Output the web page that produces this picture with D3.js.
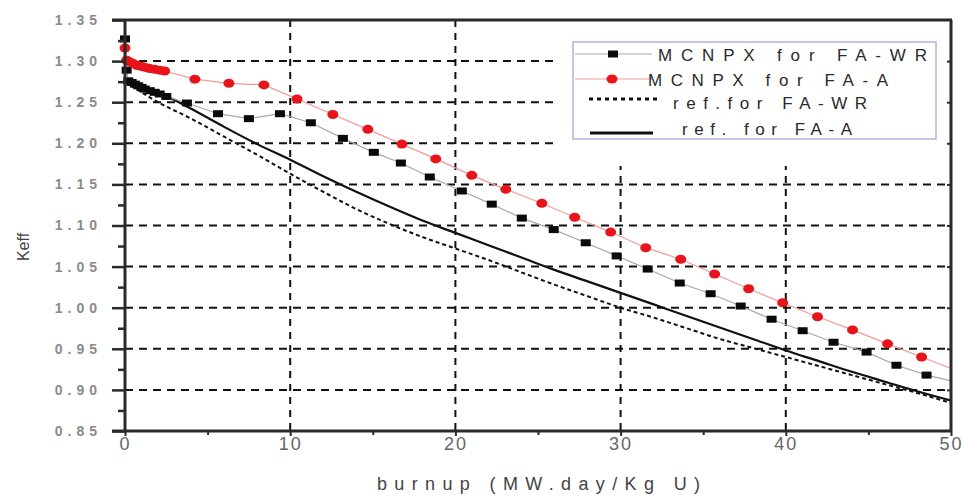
<!DOCTYPE html>
<html>
<head>
<meta charset="utf-8">
<script src="https://cdn.jsdelivr.net/npm/d3@7"></script>
<style>
  html, body { margin: 0; padding: 0; background: #fff; }
  svg { display: block; font-family: "Liberation Sans", Arial, sans-serif; }
</style>
</head>
<body>
<svg id="chart" width="969" height="499"></svg>
<script>
// Burnup (MW.day/kg U) and keff values for each series
const mcnpxWrBurnup = [0, 0.1, 0.2, 0.4, 0.6, 0.8, 1.0, 1.2, 1.5, 1.8, 2.1, 2.5,
  3.75, 5.63, 7.50, 9.38, 11.25, 13.19, 15.06, 16.7, 18.45, 20.39, 22.2, 24.02, 25.95,
  27.89, 29.76, 31.64, 33.58, 35.45, 37.27, 39.14, 41.02, 42.89, 44.89, 46.7, 48.52];
const mcnpxWrKeff = [1.327, 1.289, 1.276, 1.274, 1.272, 1.270, 1.268, 1.266, 1.264, 1.262, 1.260, 1.257,
  1.249, 1.236, 1.230, 1.236, 1.225, 1.206, 1.189, 1.176, 1.159, 1.142, 1.126, 1.109, 1.095,
  1.079, 1.063, 1.047, 1.030, 1.017, 1.002, 0.986, 0.972, 0.958, 0.946, 0.930, 0.918];
const mcnpxWrTail = [50, 0.911];

const mcnpxABurnup = [0, 0.1, 0.3, 0.5, 0.7, 0.9, 1.1, 1.3, 1.5, 1.8, 2.1, 2.4,
  4.23, 6.29, 8.41, 10.41, 12.58, 14.70, 16.76, 18.81, 20.99, 23.05, 25.23,
  27.22, 29.40, 31.52, 33.64, 35.69, 37.75, 39.81, 41.92, 44.04, 46.16, 48.22];
const mcnpxAKeff = [1.316, 1.301, 1.299, 1.297, 1.295, 1.294, 1.293, 1.292, 1.291, 1.290, 1.289, 1.288,
  1.278, 1.273, 1.271, 1.254, 1.235, 1.217, 1.199, 1.181, 1.161, 1.144, 1.127,
  1.110, 1.092, 1.073, 1.059, 1.041, 1.023, 1.006, 0.989, 0.973, 0.956, 0.940];
const mcnpxATail = [50, 0.926];

const refBurnup = [0, 1, 2, 4, 6, 8, 10, 12, 14, 16, 18, 20, 22, 24, 26,
  28, 30, 32, 34, 36, 38, 40, 42, 44, 46, 48, 50];
const refWrKeff = [1.275, 1.262, 1.250, 1.230, 1.208, 1.186, 1.163, 1.141, 1.120, 1.102, 1.086, 1.072, 1.058, 1.043, 1.028,
  1.014, 1.000, 0.988, 0.975, 0.962, 0.951, 0.940, 0.929, 0.918, 0.907, 0.896, 0.884];
const refAKeff = [1.278, 1.270, 1.262, 1.242, 1.220, 1.199, 1.180, 1.160, 1.141, 1.123, 1.106, 1.091, 1.076, 1.061, 1.046,
  1.032, 1.018, 1.004, 0.990, 0.976, 0.962, 0.948, 0.935, 0.922, 0.910, 0.898, 0.887];

const xTicks = [0, 10, 20, 30, 40, 50];
const xMinorTicks = [5, 15, 25, 35, 45];
const yTicks = [0.85, 0.90, 0.95, 1.00, 1.05, 1.10, 1.15, 1.20, 1.25, 1.30, 1.35];
const yMinorTicks = [0.875, 0.925, 0.975, 1.025, 1.075, 1.125, 1.175, 1.225, 1.275, 1.325];
const legendLabels = ["MCNPX for FA-WR", "MCNPX for FA-A", "ref.for FA-WR", "ref. for FA-A"];

const svg = d3.select("#chart");
const plotL = 125, plotR = 951, plotT = 20, plotB = 431;
const x = d3.scaleLinear().domain([0, 50]).range([plotL, plotR]);
const y = d3.scaleLinear().domain([0.85, 1.35]).range([plotB, plotT]);

const zip = (xs, ys) => xs.map((v, i) => [v, ys[i]]);
const wrPts = zip(mcnpxWrBurnup, mcnpxWrKeff);
const aPts = zip(mcnpxABurnup, mcnpxAKeff);
const refWr = zip(refBurnup, refWrKeff);
const refA = zip(refBurnup, refAKeff);

// dashed grid
const grid = svg.append("g");
grid.selectAll("line.h").data(yTicks.filter(v => v > 0.86 && v < 1.34)).join("line")
  .attr("class", "h")
  .attr("x1", plotL).attr("x2", plotR)
  .attr("y1", d => y(d)).attr("y2", d => y(d))
  .attr("stroke", "#111").attr("stroke-width", 2).attr("stroke-dasharray", "8,6");
grid.selectAll("line.v").data(xTicks.filter(v => v > 0 && v < 50)).join("line")
  .attr("class", "v")
  .attr("x1", d => x(d)).attr("x2", d => x(d))
  .attr("y1", plotT).attr("y2", plotB)
  .attr("stroke", "#111").attr("stroke-width", 2).attr("stroke-dasharray", "7,6");

// white area behind the legend
svg.append("rect").attr("x", 558).attr("y", plotT + 1).attr("width", plotR - 558 - 1).attr("height", 145)
  .attr("fill", "#fff");

const line = d3.line().curve(d3.curveMonotoneX).x(d => x(d[0])).y(d => y(d[1]));
const polyline = d3.line().x(d => x(d[0])).y(d => y(d[1]));

// reference curves
svg.append("path").attr("d", line(refWr)).attr("fill", "none")
  .attr("stroke", "#111").attr("stroke-width", 2).attr("stroke-dasharray", "4,3");
svg.append("path").attr("d", line(refA)).attr("fill", "none")
  .attr("stroke", "#111").attr("stroke-width", 2.2);

// MCNPX connecting lines
svg.append("path").attr("d", polyline(wrPts.concat([mcnpxWrTail]))).attr("fill", "none")
  .attr("stroke", "#a8a8a8").attr("stroke-width", 1.2);
svg.append("path").attr("d", polyline(aPts.concat([mcnpxATail]))).attr("fill", "none")
  .attr("stroke", "#f29a9a").attr("stroke-width", 1.2);

// markers
svg.append("g").selectAll("rect").data(wrPts).join("rect")
  .attr("x", d => x(d[0]) - 5).attr("y", d => y(d[1]) - 3.5)
  .attr("width", 10).attr("height", 7).attr("fill", "#0a0a0a");
svg.append("g").selectAll("ellipse").data(aPts).join("ellipse")
  .attr("cx", d => x(d[0])).attr("cy", d => y(d[1]))
  .attr("rx", 5.5).attr("ry", 4.5).attr("fill", "#e8141b");

// axes frame
const frame = svg.append("g").attr("stroke", "#2a2a2a").attr("stroke-width", 3);
frame.append("line").attr("x1", plotL).attr("x2", plotL).attr("y1", plotT - 1).attr("y2", plotB + 1);
frame.append("line").attr("x1", 112).attr("x2", plotR + 1).attr("y1", plotT).attr("y2", plotT);
frame.append("line").attr("x1", 112).attr("x2", plotR + 1).attr("y1", plotB).attr("y2", plotB);
frame.append("line").attr("x1", plotR).attr("x2", plotR).attr("y1", plotT).attr("y2", plotB);

// left axis
const yAxis = svg.append("g").attr("transform", `translate(${plotL},0)`)
  .call(d3.axisLeft(y).tickValues(yTicks).tickSize(13).tickPadding(10).tickFormat(d3.format(".2f")));
yAxis.select(".domain").remove();
yAxis.selectAll(".tick line").attr("stroke", "#2a2a2a").attr("stroke-width", 2.5);
yAxis.selectAll("text").attr("fill", "#8a8a8a").attr("font-size", 14)
  .attr("letter-spacing", 5).attr("font-weight", "bold");
const yMinor = svg.append("g").attr("transform", `translate(${plotL},0)`)
  .call(d3.axisLeft(y).tickValues(yMinorTicks).tickSize(7).tickFormat(""));
yMinor.select(".domain").remove();
yMinor.selectAll(".tick line").attr("stroke", "#2a2a2a").attr("stroke-width", 2.5);

// right axis inner ticks
const yRight = svg.append("g").attr("transform", `translate(${plotR},0)`)
  .call(d3.axisLeft(y).tickValues(yTicks.slice(1, -1)).tickSize(4).tickFormat(""));
yRight.select(".domain").remove();
yRight.selectAll(".tick line").attr("stroke", "#2a2a2a").attr("stroke-width", 2);

// bottom axis
const xAxis = svg.append("g").attr("transform", `translate(0,${plotB})`)
  .call(d3.axisBottom(x).tickValues(xTicks).tickSize(5).tickPadding(1).tickFormat(d3.format("d")));
xAxis.select(".domain").remove();
xAxis.selectAll(".tick line").attr("stroke", "#2a2a2a").attr("stroke-width", 2);
xAxis.selectAll("text").attr("fill", "#666").attr("font-size", 18).attr("letter-spacing", 2);
const xMinor = svg.append("g").attr("transform", `translate(0,${plotB})`)
  .call(d3.axisBottom(x).tickValues(xMinorTicks).tickSize(4).tickFormat(""));
xMinor.select(".domain").remove();
xMinor.selectAll(".tick line").attr("stroke", "#2a2a2a").attr("stroke-width", 2);

// axis titles
svg.append("text").attr("x", 377).attr("y", 490)
  .attr("textLength", 323).attr("lengthAdjust", "spacing")
  .attr("font-size", 18).attr("fill", "#444").text("burnup (MW.day/Kg U)");
svg.append("text").attr("transform", "translate(29,247) rotate(-90)")
  .attr("text-anchor", "middle").attr("font-size", 16).attr("fill", "#444").text("Keff");

// legend
const lg = svg.append("g");
lg.append("rect").attr("x", 573).attr("y", 42).attr("width", 363).attr("height", 97)
  .attr("fill", "#fff").attr("stroke", "#b4b4dc").attr("stroke-width", 1.5);
lg.append("line").attr("x1", 575).attr("x2", 652).attr("y1", 54).attr("y2", 54)
  .attr("stroke", "#a8a8a8").attr("stroke-width", 1.2);
lg.append("rect").attr("x", 608).attr("y", 50.5).attr("width", 10).attr("height", 7).attr("fill", "#0a0a0a");
lg.append("line").attr("x1", 575).attr("x2", 652).attr("y1", 79).attr("y2", 79)
  .attr("stroke", "#f29a9a").attr("stroke-width", 1.2);
lg.append("ellipse").attr("cx", 612).attr("cy", 79).attr("rx", 5.5).attr("ry", 4.5).attr("fill", "#e8141b");
lg.append("line").attr("x1", 589).attr("x2", 661).attr("y1", 99).attr("y2", 99)
  .attr("stroke", "#111").attr("stroke-width", 3).attr("stroke-dasharray", "4,4");
lg.append("line").attr("x1", 590).attr("x2", 653).attr("y1", 133).attr("y2", 133)
  .attr("stroke", "#111").attr("stroke-width", 3.2);

const legendPos = [[658, 61, 269], [648, 86, 240], [673, 109, 194], [682, 135, 170]];
lg.selectAll("text.lbl").data(legendLabels).join("text")
  .attr("class", "lbl")
  .attr("x", (d, i) => legendPos[i][0]).attr("y", (d, i) => legendPos[i][1])
  .attr("textLength", (d, i) => legendPos[i][2]).attr("lengthAdjust", "spacing")
  .attr("font-size", 17).attr("fill", "#2a2a2a").text(d => d);
</script>
</body>
</html>
